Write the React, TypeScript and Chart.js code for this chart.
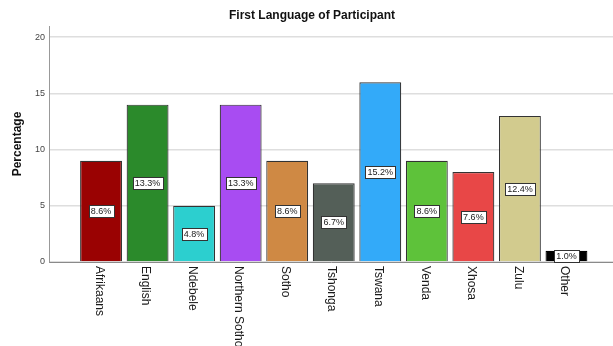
import { useEffect, useRef } from "react";
import { Chart, registerables } from "chart.js";

Chart.register(...registerables);

// First language of participants (respondent counts per language)
const languages = [
  "Afrikaans",
  "English",
  "Ndebele",
  "Northern Sotho",
  "Sotho",
  "Tshonga",
  "Tswana",
  "Venda",
  "Xhosa",
  "Zulu",
  "Other",
];
const counts = [9, 14, 5, 14, 9, 7, 16, 9, 8, 13, 1];
const barColors = [
  "#9a0202",
  "#2b8a2b",
  "#2ccfcf",
  "#a84cf2",
  "#cf8944",
  "#545f58",
  "#33aaf9",
  "#5ec23a",
  "#e84747",
  "#d2cb8e",
  "#000000",
];
const yTickValues = [0, 5, 10, 15, 20];
const chartTitle = "First Language of Participant";
const yAxisTitle = "Percentage";

const total = counts.reduce((a, b) => a + b, 0);
const percentLabels = counts.map((c) => ((c / total) * 100).toFixed(1) + "%");

const FONT = "'Liberation Sans', Arial, Helvetica, sans-serif";

const textPlugin = {
  id: "spssText",
  afterDatasetsDraw(chart: any) {
    const ctx: CanvasRenderingContext2D = chart.ctx;
    const xs = chart.scales.x;
    const area = chart.chartArea;
    ctx.save();

    // chart title
    ctx.font = `bold 12px ${FONT}`;
    ctx.fillStyle = "#111";
    ctx.textAlign = "center";
    ctx.textBaseline = "middle";
    ctx.fillText(chartTitle, 312, 16);

    // y axis title
    ctx.save();
    ctx.translate(18, (area.top + area.bottom) / 2);
    ctx.rotate(-Math.PI / 2);
    ctx.fillText(yAxisTitle, 0, 0);
    ctx.restore();

    // category labels, rotated clockwise, reading downward
    ctx.font = `12px ${FONT}`;
    ctx.fillStyle = "#1a1a1a";
    languages.forEach((name, i) => {
      const x = xs.getPixelForValue(i) - 2;
      ctx.save();
      ctx.translate(x, area.bottom + 4);
      ctx.rotate(Math.PI / 2);
      ctx.textAlign = "left";
      ctx.textBaseline = "middle";
      ctx.fillText(name, 0, 0);
      ctx.restore();
    });

    // percentage labels in boxes at mid-height of each bar
    const meta = chart.getDatasetMeta(0);
    ctx.font = `9px ${FONT}`;
    ctx.textAlign = "center";
    ctx.textBaseline = "middle";
    meta.data.forEach((bar: any, i: number) => {
      const cx = bar.x;
      const cy = (bar.y + bar.base) / 2;
      const text = percentLabels[i];
      const w = Math.round(ctx.measureText(text).width + 4);
      const h = 12;
      const left = Math.round(cx - w / 2) + 0.5;
      const top = Math.round(cy - h / 2) + 0.5;
      ctx.fillStyle = "#ffffff";
      ctx.fillRect(left, top, w, h);
      ctx.strokeStyle = "#333";
      ctx.lineWidth = 1;
      ctx.strokeRect(left, top, w, h);
      ctx.fillStyle = "#222";
      ctx.fillText(text, cx, cy + 0.5);
    });

    ctx.restore();
  },
};

export default function App() {
  const canvasRef = useRef<HTMLCanvasElement | null>(null);

  useEffect(() => {
    if (!canvasRef.current) return;
    const chart = new Chart(canvasRef.current, {
      type: "bar",
      data: {
        datasets: [
          {
            data: counts.map((c, i) => ({ x: i, y: c })),
            backgroundColor: barColors,
            borderColor: barColors.map((c) => (c === "#000000" ? "#000" : "#333333")),
            borderWidth: 1.2,
            barPercentage: 0.9,
            categoryPercentage: 1,
          },
        ],
      },
      options: {
        animation: false,
        responsive: true,
        maintainAspectRatio: false,
        layout: { padding: { top: 26, left: 0, right: 0, bottom: 0 } },
        plugins: {
          legend: { display: false },
          tooltip: { enabled: false },
          title: { display: false },
        },
        scales: {
          x: {
            type: "linear",
            offset: false,
            min: -1.118,
            max: 11,
            ticks: { display: false },
            grid: { display: false, drawTicks: false, offset: false },
            border: { display: true, color: "#8a8a8a", width: 1 },
            afterFit: (scale: any) => {
              scale.height = 84;
            },
          },
          y: {
            type: "linear",
            min: 0,
            max: 21,
            afterBuildTicks: (scale: any) => {
              scale.ticks = yTickValues.map((v) => ({ value: v }));
            },
            afterFit: (scale: any) => {
              scale.width = 49;
            },
            ticks: {
              padding: 4,
              color: "#444",
              font: { family: FONT, size: 9 },
            },
            grid: { color: "#dedede", lineWidth: 1.5, drawTicks: false },
            border: { display: true, color: "#999", width: 1 },
          },
        },
      },
      plugins: [textPlugin],
    } as any);
    return () => chart.destroy();
  }, []);

  return (
    <div style={{ position: "absolute", left: 0, top: 0, width: 613, height: 346 }}>
      <canvas ref={canvasRef} />
    </div>
  );
}
